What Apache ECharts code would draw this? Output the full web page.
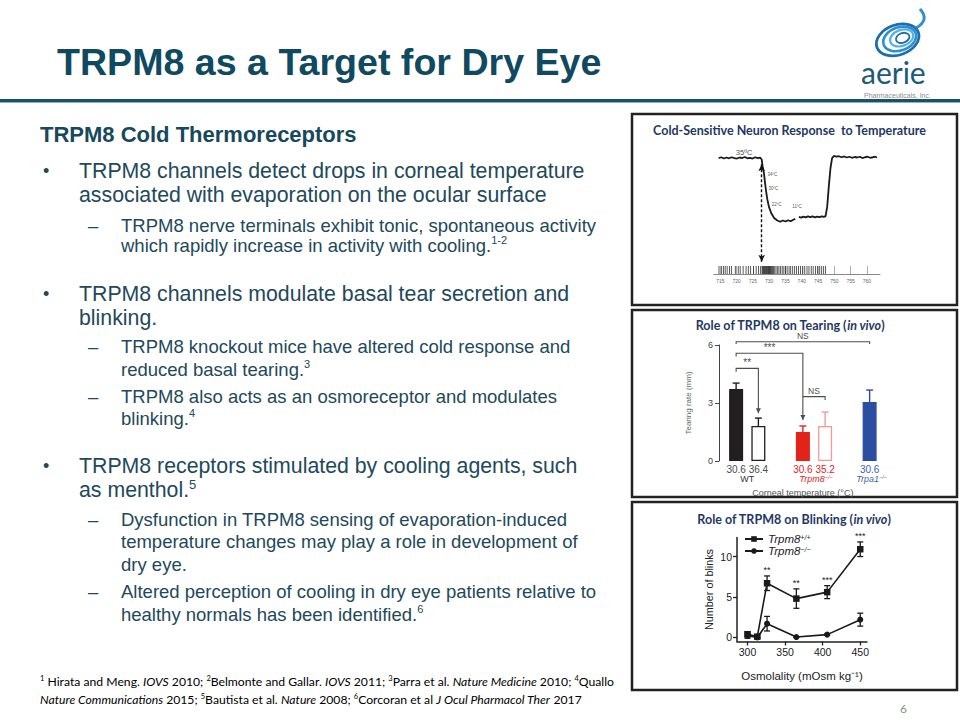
<!DOCTYPE html>
<html>
<head>
<meta charset="utf-8">
<title>TRPM8 as a Target for Dry Eye</title>
<script src="https://cdn.jsdelivr.net/npm/echarts@6.0.0/dist/echarts.min.js"></script>
<style>
  html, body { margin: 0; padding: 0; background: #ffffff; }
  #chart { width: 960px; height: 720px; }
</style>
</head>
<body>
<div id="chart"></div>
<script>
// ================= Slide text =================
const slideTitle = 'TRPM8 as a Target for Dry Eye';
const sectionHeading = 'TRPM8 Cold Thermoreceptors';
// b = bullet, bc = bullet continuation, d = dash sub-point, dc = dash continuation
const bodyKinds = ['b','bc','d','dc','b','bc','d','dc','d','dc','b','bc','d','dc','dc','d','dc'];
const bodyTexts = [
  'TRPM8 channels detect drops in corneal temperature',
  'associated with evaporation on the ocular surface',
  'TRPM8 nerve terminals exhibit tonic, spontaneous activity',
  'which rapidly increase in activity with cooling.{s|1-2}',
  'TRPM8 channels modulate basal tear secretion and',
  'blinking.',
  'TRPM8 knockout mice have altered cold response and',
  'reduced basal tearing.{s|3}',
  'TRPM8 also acts as an osmoreceptor and modulates',
  'blinking.{s|4}',
  'TRPM8 receptors stimulated by cooling agents, such',
  'as menthol.{s|5}',
  'Dysfunction in TRPM8 sensing of evaporation-induced',
  'temperature changes may play a role in development of',
  'dry eye.',
  'Altered perception of cooling in dry eye patients relative to',
  'healthy normals has been identified.{s|6}'
];
const footnoteLines = [
  '{s|1} Hirata and Meng. {i|IOVS} 2010; {s|2}Belmonte and Gallar. {i|IOVS} 2011; {s|3}Parra et al. {i|Nature Medicine} 2010; {s|4}Quallo',
  '{i|Nature Communications} 2015; {s|5}Bautista et al. {i|Nature} 2008; {s|6}Corcoran et al {i|J Ocul Pharmacol Ther} 2017'
];
const pageNumber = '6';
const panelTitles = [
  'Cold-Sensitive Neuron Response  to Temperature',
  'Role of TRPM8 on Tearing ({i|in vivo})',
  'Role of TRPM8 on Blinking ({i|in vivo})'
];

// ================= Panel 1: cold-sensitive neuron response =================
const traceTime = [714.5, 715.3, 716.1, 716.9, 717.7, 718.5, 719.3, 720.1, 720.9, 721.7, 722.5, 723.3, 724.1, 724.9, 725.7, 726.5, 727.2, 727.7,
  728.0, 728.4, 728.7, 729.0, 729.4, 729.9, 730.6, 731.5, 732.5, 733.4, 734.2, 735.0, 735.8, 736.6, 737.4, 738.0, 738.5,
  739.1, 739.8, 740.5, 741.2, 741.9, 742.6, 743.3, 744.0, 744.7, 745.4, 746.1, 746.8, 747.3, 747.8, 748.3, 748.8, 749.3, 749.9,
  750.6, 751.4, 752.2, 753.0, 753.8, 754.6, 755.4, 756.2, 757.0, 757.8, 758.6, 759.4, 760.2, 761.0, 761.8, 762.5, 763.1];
const traceTemp = [35.0, 35.3, 34.8, 35.2, 34.9, 35.3, 35.0, 34.8, 35.2, 35.0, 35.4, 34.9, 35.1, 34.8, 35.3, 35.0, 35.2, 34.4,
  31.5, 29.0, 25.5, 22.5, 19.0, 16.0, 13.5, 11.6, 10.6, 10.1, 10.6, 10.2, 10.7, 10.3, 10.9, 11.2, '-',
  12.0, 11.7, 12.1, 11.8, 12.2, 11.9, 12.2, 11.8, 12.1, 11.9, 12.2, 12.0, 12.3, 16.0, 24.0, 31.0, 35.0, 35.8,
  35.5, 35.7, 35.3, 35.6, 35.2, 35.5, 35.1, 35.4, 35.2, 35.5, 35.0, 35.3, 35.5, 35.1, 35.3, 35.5, 35.2];
const spikeTimes = [714.6, 715.4, 716.0, 716.5, 717.1, 717.8, 718.4, 719.6, 720.5, 721.1, 722.0, 722.9, 723.6, 724.3, 725.2, 726.0,
  726.7, 727.3, 727.8, 728.0, 728.2, 728.4, 728.6, 728.8, 729.0, 729.2, 729.4, 729.6, 729.8, 730.0, 730.2, 730.4, 730.7,
  731.0, 731.3, 731.7, 732.1, 732.6, 733.0, 733.5, 734.0, 734.5, 735.0, 735.5, 736.1, 736.6, 737.2, 737.8, 738.4, 739.0,
  739.6, 740.3, 740.9, 741.6, 742.2, 742.9, 743.5, 744.2, 744.8, 745.5, 746.1, 746.7, 747.3];
const rasterTicks = [715, 720, 725, 730, 735, 740, 745, 750, 755, 760];
const plateauLabel = [722.3, 35, '35ºC'];
const dropLabels = [[729.0, 28.4, '34ºC'], [729.3, 22.9, '30ºC'], [730.3, 17.0, '22ºC'], [736.6, 16.0, '11ºC']];
const stimulusArrow = [[727.7, 32.6], [727.7, -5.5]];

// ================= Panel 2: tearing =================
const tearCats = ['30.6', '36.4', '', '30.6', '35.2', '', '30.6'];
const tearMean = [3.72, 1.81, '-', 1.50, 1.81, '-', 3.05];
const tearErr  = [0.31, 0.41, '-', 0.31, 0.72, '-', 0.62];
const tearGroups = [
  { name: 'WT', sup: '', from: 0, to: 1 },
  { name: 'Trpm8', sup: '\u2212/\u2212', from: 3, to: 4 },
  { name: 'Trpa1', sup: '\u2212/\u2212', from: 6, to: 6 }
];
const tearBrackets = [
  { from: 0, to: 6, y: 6.17, left: 6.05, right: 6.05, label: 'NS', arrow: false },
  { from: 0, to: 3, y: 5.57, left: 5.40, right: 2.12, label: '***', arrow: true },
  { from: 0, to: 1, y: 4.79, left: 4.62, right: 2.47, label: '**', arrow: true },
  { from: 3, to: 4, y: 3.33, left: null, right: 3.16, label: 'NS', arrow: false }
];
const tearXName = 'Corneal temperature (\u00B0C)';
const tearYName = 'Tearing rate (mm)';

// ================= Panel 3: blinking =================
const blinkNames = ['Trpm8+/+', 'Trpm8\u2212/\u2212'];
const blinkOsm = [300, 313, 326, 365, 406, 450];
const blinkWT = [0.4, 0.1, 6.7, 4.8, 5.6, 10.9];
const blinkWTErr = [0.3, 0.2, 0.9, 1.2, 0.8, 0.9];
const blinkKO = [0.2, 0.0, 1.7, 0.05, 0.35, 2.2];
const blinkKOErr = [0.3, 0.1, 0.9, 0.05, 0.1, 0.8];
const blinkSig = ['', '', '**', '**', '***', '***'];
const blinkXTicks = [300, 350, 400, 450];
const blinkYTicks = [0, 5, 10];
const blinkXName = 'Osmolality (mOsm kg\u207B\u00B9)';
const blinkYName = 'Number of blinks';

// ================= Styles =================
const SANS = '"Liberation Sans", Arial, Helvetica, sans-serif';
const CAL = 'Lato, "Open Sans", sans-serif';
const BODY = '#21495a';
const NAVY = '#1f3864';
const tearFill = ['#231f20', '#ffffff', '#fff', '#e2231a', '#ffffff', '#fff', '#2b4ea2'];
const tearEdge = ['#231f20', '#231f20', '#fff', '#e2231a', '#f29a95', '#fff', '#2b4ea2'];
const tearLabelColor = ['#4a4a4a', '#4a4a4a', '#4a4a4a', '#e2231a', '#e2231a', '#4a4a4a', '#3b5fb5'];
const tearGroupColor = ['#333333', '#e2231a', '#3b5fb5'];

function textEl(x, y, text, st) {
  return { type: 'text', x: x, y: y, silent: true, z: 20,
    style: Object.assign({ text: text, align: 'left', verticalAlign: 'middle', fill: BODY,
      fontFamily: SANS, fontSize: 21, fontWeight: 'normal', fontStyle: 'normal' }, st) };
}

const els = [];
// Title and rule
els.push(textEl(57, 62, slideTitle, { fontSize: 37.6, fontWeight: 'bold', fill: '#0f4a61' }));
els.push({ type: 'rect', silent: true, shape: { x: 0, y: 99, width: 960, height: 3 }, style: { fill: '#1d4f66' } });
els.push({ type: 'rect', silent: true, shape: { x: 0, y: 102, width: 960, height: 1 }, style: { fill: '#8fb0c0' } });

// Logo
[[898, 40, 22, 15, '#1a6fae', 2.8], [900, 39, 17, 11.5, '#2f8fd0', 2.6], [902, 38, 12, 8, '#58b2e6', 2.2], [903, 38, 7, 4.8, '#1a6fae', 1.8]]
  .forEach(e => els.push({ type: 'ellipse', silent: true, rotation: 0.35, originX: e[0], originY: e[1],
    shape: { cx: e[0], cy: e[1], rx: e[2], ry: e[3] }, style: { fill: 'none', stroke: e[4], lineWidth: e[5] } }));
els.push({ type: 'bezierCurve', silent: true, shape: { x1: 916, y1: 28, cpx1: 930, cpy1: 20, x2: 920, y2: 9 },
  style: { fill: 'none', stroke: '#2f8fd0', lineWidth: 3 } });
els.push(textEl(861, 72, 'aerie', { fontFamily: CAL, fontSize: 30, fill: '#1b5a78', lineHeight: 20 }));
els.push(textEl(864, 95, 'Pharmaceuticals, Inc.', { fontFamily: SANS, fontSize: 7, fill: '#8c8c8c', lineHeight: 7 }));

// Heading and body
els.push(textEl(40, 134, sectionHeading, { fontSize: 22, fontWeight: 'bold', fill: '#17485b' }));
const lineY = [171, 195, 225, 245, 294, 318, 346, 369, 396, 418, 466, 490, 519, 541, 564, 591, 614];
bodyTexts.forEach((t, i) => {
  const k = bodyKinds[i];
  const big = (k === 'b' || k === 'bc');
  const fs = big ? 21.3 : 18.5;
  const x = big ? 79 : 121;
  const ss = Math.round(fs * 0.6);
  if (k === 'b') els.push(textEl(43, lineY[i], '\u2022', { fontSize: 18 }));
  if (k === 'd') els.push(textEl(88, lineY[i], '\u2013', { fontSize: fs }));
  els.push(textEl(x, lineY[i], t, { fontSize: fs, lineHeight: fs + 2,
    rich: { s: { fontFamily: SANS, fontSize: ss, fill: BODY, verticalAlign: 'top', lineHeight: ss } } }));
});

// Footnotes
const fnRich = {
  s: { fontFamily: CAL, fontSize: 7.5, fill: '#000', verticalAlign: 'top', lineHeight: 8 },
  i: { fontFamily: CAL, fontSize: 12.2, fontStyle: 'italic', fill: '#000' }
};
footnoteLines.forEach((t, i) => {
  els.push(textEl(40, 681 + i * 18, t, { fontFamily: CAL, fontSize: 12.2, fill: '#000', lineHeight: 14, rich: fnRich }));
});
els.push(textEl(900, 708, pageNumber, { fontFamily: CAL, fontSize: 12, fill: '#8c8c8c' }));

// Panels
[[632, 114, 325, 191], [632, 310, 325, 187], [632, 502, 325, 188]].forEach(b => {
  els.push({ type: 'rect', silent: true, shape: { x: b[0], y: b[1], width: b[2], height: b[3] },
    style: { fill: 'none', stroke: '#222', lineWidth: 2.5 } });
});
[[789.5, 130], [790, 325], [794, 519]].forEach((p, i) => {
  els.push(textEl(p[0], p[1], panelTitles[i], { align: 'center', fontFamily: CAL, fontWeight: 'bold', fontSize: 12.5, fill: NAVY,
    lineHeight: 12,
    rich: { i: { fontFamily: CAL, fontWeight: 'bold', fontStyle: 'italic', fontSize: 12.5, fill: NAVY, lineHeight: 12 } } }));
});

// ================= Chart option =================
const option = {
  animation: false,
  backgroundColor: '#ffffff',
  grid: [
    { left: 713.8, top: 152.9, width: 166.2, height: 115.2, outerBoundsMode: 'none' },
    { left: 713.8, top: 266, width: 166.2, height: 8, outerBoundsMode: 'none' },
    { left: 725, top: 345, width: 155.75, height: 116, outerBoundsMode: 'none' },
    { left: 737, top: 537.5, width: 130, height: 104, outerBoundsMode: 'none' }
  ],
  xAxis: [
    { type: 'value', gridIndex: 0, min: 713, max: 764, show: false },
    { type: 'value', gridIndex: 1, min: 713, max: 764,
      axisLine: { show: true, onZero: false, lineStyle: { color: '#888', width: 1 } },
      axisTick: { show: true, inside: true, length: 8, customValues: rasterTicks, lineStyle: { color: '#999', width: 0.8 } },
      axisLabel: { show: true, customValues: rasterTicks, fontSize: 5, color: '#666', margin: 4, fontFamily: SANS },
      splitLine: { show: false } },
    { type: 'category', gridIndex: 2, data: tearCats,
      axisLine: { show: false }, axisTick: { show: false },
      axisLabel: { show: true, interval: 0, margin: 3,
        formatter: (v, i) => v ? '{c' + i + '|' + v + '}' : '',
        rich: Object.fromEntries(tearLabelColor.map((c, i) => ['c' + i, { color: c, fontSize: 10, fontFamily: SANS }])) },
      name: tearXName, nameLocation: 'middle', nameGap: 27,
      nameTextStyle: { fontSize: 9, color: '#555', fontFamily: SANS } },
    { type: 'value', gridIndex: 3, min: 286, max: 459,
      axisLine: { show: true, onZero: false, lineStyle: { color: '#222', width: 1.5 } },
      axisTick: { show: true, length: 4, customValues: blinkXTicks, lineStyle: { color: '#222', width: 1.3 } },
      axisLabel: { show: true, customValues: blinkXTicks, fontSize: 10.5, color: '#222', margin: 5, fontFamily: SANS },
      splitLine: { show: false },
      name: blinkXName, nameLocation: 'middle', nameGap: 28,
      nameTextStyle: { fontSize: 11.5, color: '#222', fontFamily: SANS } }
  ],
  yAxis: [
    { type: 'value', gridIndex: 0, min: -8, max: 37, show: false },
    { type: 'value', gridIndex: 1, min: 0, max: 1, show: false },
    { type: 'value', gridIndex: 2, min: 0, max: 6, interval: 3, offset: 6,
      axisLine: { show: true, onZero: false, lineStyle: { color: '#444', width: 1 } },
      axisTick: { show: true, length: 4, lineStyle: { color: '#444' } },
      axisLabel: { fontSize: 9, color: '#444', margin: 6, fontFamily: SANS },
      splitLine: { show: false },
      name: tearYName, nameLocation: 'middle', nameGap: 27, nameRotate: 90,
      nameTextStyle: { fontSize: 8, color: '#666', fontFamily: SANS } },
    { type: 'value', gridIndex: 3, min: -0.5, max: 12.35,
      axisLine: { show: true, onZero: false, lineStyle: { color: '#222', width: 1.5 } },
      axisTick: { show: true, length: 4, customValues: blinkYTicks, lineStyle: { color: '#222', width: 1.3 } },
      axisLabel: { customValues: blinkYTicks, fontSize: 10.5, color: '#222', margin: 5, fontFamily: SANS },
      splitLine: { show: false },
      name: blinkYName, nameLocation: 'middle', nameGap: 23, nameRotate: 90,
      nameTextStyle: { fontSize: 10.8, color: '#222', fontFamily: SANS } }
  ],
  legend: {
    data: blinkNames, orient: 'vertical', left: 744, top: 533, padding: 0,
    itemWidth: 18, itemHeight: 7, itemGap: 0, selectedMode: false,
    formatter: n => '{i|' + n.slice(0, 5) + '}{s|' + n.slice(5) + '}',
    textStyle: { fontFamily: SANS, fontSize: 11.5, fontStyle: 'italic', color: '#222', lineHeight: 11,
      rich: { i: { fontFamily: SANS, fontSize: 11.5, fontStyle: 'italic', color: '#222', lineHeight: 11 },
              s: { fontFamily: SANS, fontSize: 7, fontStyle: 'italic', color: '#222', verticalAlign: 'top', lineHeight: 7 } } }
  },
  series: [
    { type: 'line', name: 'trace', xAxisIndex: 0, yAxisIndex: 0, silent: true, clip: false,
      data: traceTime.map((t, i) => [t, traceTemp[i]]), showSymbol: false, symbol: 'none', connectNulls: false,
      lineStyle: { color: '#1a1a1a', width: 1.8 },
      markLine: { silent: true, symbol: ['arrow', 'arrow'], symbolSize: [5, 7], label: { show: false },
        lineStyle: { type: [3, 2], color: '#111', width: 1.4 },
        data: [[{ coord: stimulusArrow[0] }, { coord: stimulusArrow[1] }]] } },
    { type: 'scatter', name: 'tempLabels', xAxisIndex: 0, yAxisIndex: 0, silent: true, symbolSize: 1,
      itemStyle: { color: 'rgba(255,255,255,0)' },
      data: [{ value: plateauLabel, label: { position: 'top', distance: 1, fontSize: 7.5 } }]
        .concat(dropLabels.map(d => ({ value: d, label: { position: 'right', distance: 1, fontSize: 4.5 } }))),
      label: { show: true, formatter: p => p.value[2], color: '#222', fontFamily: SANS } },
    { type: 'scatter', name: 'spikes', xAxisIndex: 1, yAxisIndex: 1, silent: true,
      data: spikeTimes.map(t => [t, 0.5]), symbol: 'rect', symbolSize: [0.9, 8], itemStyle: { color: '#1a1a1a' } },
    { type: 'bar', name: 'tearing', xAxisIndex: 2, yAxisIndex: 2, silent: true, barWidth: 14,
      data: tearMean.map((v, i) => ({ value: v, itemStyle: { color: tearFill[i], borderColor: tearEdge[i], borderWidth: 1.3 } })) },
    { type: 'custom', name: 'tearErr', xAxisIndex: 2, yAxisIndex: 2, silent: true, clip: false,
      data: tearMean.map((v, i) => [i, v, tearErr[i]]).filter(d => typeof d[1] === 'number'),
      renderItem: (params, api) => {
        const i = api.value(0), m = api.value(1), e = api.value(2);
        const lo = api.coord([i, m]), hi = api.coord([i, m + e]);
        const st = { stroke: tearEdge[i], lineWidth: 1.4 };
        return { type: 'group', children: [
          { type: 'line', shape: { x1: lo[0], y1: lo[1], x2: hi[0], y2: hi[1] }, style: st },
          { type: 'line', shape: { x1: hi[0] - 3.5, y1: hi[1], x2: hi[0] + 3.5, y2: hi[1] }, style: st } ] };
      } },
    { type: 'custom', name: 'tearBrackets', xAxisIndex: 2, yAxisIndex: 2, silent: true, clip: false,
      data: tearBrackets.map(b => [b.from, b.y]),
      renderItem: (params, api) => {
        const b = tearBrackets[params.dataIndex];
        const pts = [];
        if (b.left !== null) pts.push(api.coord([b.from, b.left]));
        const a = api.coord([b.from, b.y]), c = api.coord([b.to, b.y]);
        pts.push(a, c, api.coord([b.to, b.right]));
        const end = pts[pts.length - 1];
        const ch = [
          { type: 'polyline', shape: { points: pts }, style: { stroke: '#4d4d4d', lineWidth: 1.1, fill: 'none' } },
          { type: 'text', style: { text: b.label, x: (a[0] + c[0]) / 2, y: a[1] - 1.5, align: 'center', verticalAlign: 'bottom',
            fontSize: b.label === 'NS' ? 8.5 : 10, lineHeight: 8, fontFamily: SANS, fill: '#4d4d4d' } }
        ];
        if (b.arrow) ch.push({ type: 'polygon', shape: { points: [[end[0] - 2.5, end[1] - 5], [end[0] + 2.5, end[1] - 5], [end[0], end[1]]] },
          style: { fill: '#4d4d4d' } });
        return { type: 'group', children: ch };
      } },
    { type: 'custom', name: 'tearGroups', xAxisIndex: 2, yAxisIndex: 2, silent: true, clip: false,
      data: tearGroups.map(g => [g.from, 0]),
      renderItem: (params, api) => {
        const g = tearGroups[params.dataIndex];
        const col = tearGroupColor[params.dataIndex];
        const a = api.coord([g.from, 0]), c = api.coord([g.to, 0]);
        const ital = g.sup !== '';
        return { type: 'text', style: {
          text: '{n|' + g.name + '}' + (g.sup ? '{s|' + g.sup + '}' : ''),
          x: (a[0] + c[0]) / 2 + (ital ? 2 : 0), y: a[1] + 18, align: 'center', verticalAlign: 'middle', fill: col,
          fontFamily: SANS, fontSize: 9,
          rich: { n: { fontFamily: SANS, fontSize: 9, fontStyle: ital ? 'italic' : 'normal', fill: col, lineHeight: 10 },
                  s: { fontFamily: SANS, fontSize: 5.5, fontStyle: 'italic', fill: col, verticalAlign: 'top', lineHeight: 6 } } } };
      } },
    { type: 'line', name: blinkNames[0], xAxisIndex: 3, yAxisIndex: 3, silent: true,
      data: blinkOsm.map((x, i) => [x, blinkWT[i]]), symbol: 'rect', symbolSize: 6.5, showSymbol: true,
      lineStyle: { color: '#1a1a1a', width: 1.6 }, itemStyle: { color: '#1a1a1a' } },
    { type: 'line', name: blinkNames[1], xAxisIndex: 3, yAxisIndex: 3, silent: true,
      data: blinkOsm.map((x, i) => [x, blinkKO[i]]), symbol: 'circle', symbolSize: 6, showSymbol: true,
      lineStyle: { color: '#1a1a1a', width: 1.6 }, itemStyle: { color: '#1a1a1a' } },
    { type: 'custom', name: 'blinkErrWT', xAxisIndex: 3, yAxisIndex: 3, silent: true, clip: false,
      data: blinkOsm.map((x, i) => [x, blinkWT[i], blinkWTErr[i]]),
      renderItem: (params, api) => errBar(params, api, blinkSig[params.dataIndex]) },
    { type: 'custom', name: 'blinkErrKO', xAxisIndex: 3, yAxisIndex: 3, silent: true, clip: false,
      data: blinkOsm.map((x, i) => [x, blinkKO[i], blinkKOErr[i]]),
      renderItem: (params, api) => errBar(params, api, '') }
  ],
  graphic: { elements: els }
};

function errBar(params, api, sig) {
  const x = api.value(0), m = api.value(1), e = api.value(2);
  const hi = api.coord([x, m + e]), lo = api.coord([x, m - e]);
  const st = { stroke: '#1a1a1a', lineWidth: 1.3 };
  const ch = [
    { type: 'line', shape: { x1: hi[0], y1: hi[1], x2: lo[0], y2: lo[1] }, style: st },
    { type: 'line', shape: { x1: hi[0] - 3, y1: hi[1], x2: hi[0] + 3, y2: hi[1] }, style: st },
    { type: 'line', shape: { x1: lo[0] - 3, y1: lo[1], x2: lo[0] + 3, y2: lo[1] }, style: st }
  ];
  if (sig) ch.push({ type: 'text', style: { text: sig, x: hi[0], y: hi[1] - 1, align: 'center', verticalAlign: 'bottom',
    fontSize: 9, fontFamily: SANS, fill: '#1a1a1a' } });
  return { type: 'group', children: ch };
}

const chart = echarts.init(document.getElementById('chart'), null, { renderer: 'svg', width: 960, height: 720 });
chart.setOption(option);
</script>
</body>
</html>
